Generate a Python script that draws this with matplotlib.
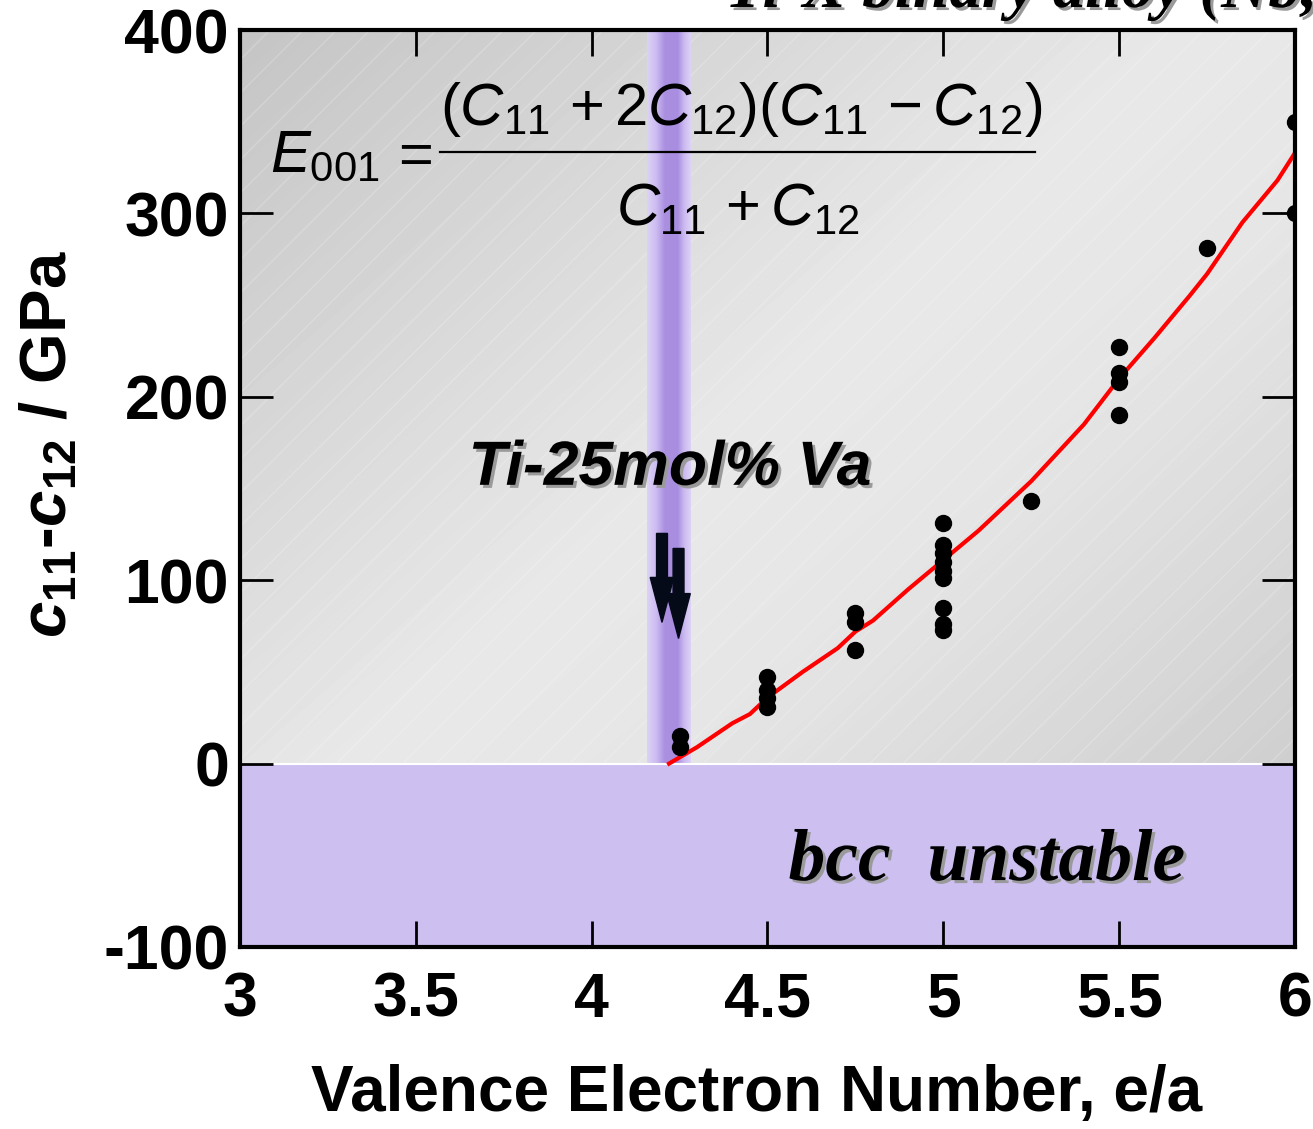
import numpy as np
import matplotlib
matplotlib.use('Agg')
import matplotlib.pyplot as plt
import matplotlib.patheffects as pe
from matplotlib.patches import Rectangle, FancyArrow
from matplotlib.colors import LinearSegmentedColormap

plt.rcParams['font.family'] = 'Liberation Sans'
plt.rcParams['axes.unicode_minus'] = False
plt.rcParams['mathtext.fontset'] = 'custom'
plt.rcParams['mathtext.rm'] = 'Liberation Sans'
plt.rcParams['mathtext.it'] = 'Liberation Sans:italic'
plt.rcParams['mathtext.bf'] = 'Liberation Sans:bold'
plt.rcParams['mathtext.bfit'] = 'Liberation Sans:bold:italic'

# measured points (e/a, c11-c12 in GPa)
ea_pts = [4.25, 4.25,
          4.5, 4.5, 4.5, 4.5,
          4.75, 4.75, 4.75,
          5, 5, 5, 5, 5, 5, 5, 5, 5,
          5.25,
          5.5, 5.5, 5.5, 5.5,
          5.75,
          6, 6]
c_pts = [15, 9,
         47, 40, 36, 31,
         82, 77, 62,
         131, 119, 115, 110, 105, 101, 85, 76, 73,
         143,
         227, 213, 208, 190,
         281,
         350, 300]

# calculated curve (red)
ea_calc = [4.22, 4.3, 4.4, 4.45, 4.5, 4.6, 4.7, 4.75, 4.8, 4.9, 5.0, 5.1, 5.2, 5.25,
           5.4, 5.5, 5.6, 5.7, 5.75, 5.85, 5.95, 6.0]
c_calc = [0, 9, 22, 27, 36, 50, 63, 72, 78, 95, 111, 127, 145, 154,
          185, 210, 232, 255, 267, 295, 318, 333]

# Ti-25mol% Va band and arrows
band_x0, band_x1 = 4.157, 4.282
arrow_x = [4.200, 4.247]
arrow_top = [125.5, 117.3]
arrow_tip = [77, 68.2]

xticks = [3, 3.5, 4, 4.5, 5, 5.5, 6]
xticklabels = ['3', '3.5', '4', '4.5', '5', '5.5', '6']
yticks = [-100, 0, 100, 200, 300, 400]

fig = plt.figure(figsize=(13.13, 11.29), dpi=100)
ax = fig.add_axes([240/1313, 182/1129, 1055/1313, 917/1129])
ax.set_xlim(3, 6)
ax.set_ylim(-100, 400)

# gray gradient background
X, Y = np.meshgrid(np.linspace(0, 1, 300), np.linspace(1, 0, 300))
u = (X + (1 - Y)) / 2
g = np.interp(u, [0, 0.45, 0.6, 0.9, 1.0], [0.77, 0.91, 0.90, 0.81, 0.80])
ax.imshow(g, cmap='gray', vmin=0, vmax=1, extent=[3, 6, -100, 400],
          aspect='auto', zorder=0, interpolation='bilinear')
ax.add_patch(Rectangle((0, 0), 1, 1, transform=ax.transAxes, fill=False,
                       hatch='/', edgecolor=(1, 1, 1, 0.2), lw=0, zorder=0.5))

# purple band
band_cmap = LinearSegmentedColormap.from_list(
    'band', [(0, '#ddd2f6'), (0.2, '#cdbdf1'), (0.4, '#ab90e1'),
             (0.7, '#a88de0'), (0.85, '#cbbaf0'), (1, '#ddd2f6')])
ax.imshow(np.linspace(0, 1, 100)[None, :], cmap=band_cmap, extent=[band_x0, band_x1, 0, 400],
          aspect='auto', zorder=1, interpolation='bilinear')

# bcc unstable region
ax.add_patch(Rectangle((3, -100), 3, 100, facecolor='#cdbff0', edgecolor='white', lw=1.5, zorder=1.5))

ax.plot(ea_calc, c_calc, color='#ff0000', lw=3, zorder=3)
ax.plot(ea_pts, c_pts, 'o', color='black', ms=11.5, zorder=4)

for x, y0, y1 in zip(arrow_x, arrow_top, arrow_tip):
    ax.add_patch(FancyArrow(x, y0, 0, y1 - y0, width=0.031, head_width=0.067,
                            head_length=24.5, length_includes_head=True,
                            color='#050a18', zorder=5))

shadow = [pe.SimplePatchShadow(offset=(2.2, -2.2), shadow_rgbFace='#9a9a9a', alpha=1), pe.Normal()]

ax.text(0.4076, 0.504, 'Ti-25mol% Va', fontsize=45, fontweight='bold', style='italic',
        ha='center', va='baseline', transform=ax.transAxes, zorder=6, path_effects=shadow)
ax.text(0.708, 0.073, 'bcc  unstable', fontsize=53, fontweight='bold', style='italic',
        family='Liberation Serif', ha='center', va='baseline', transform=ax.transAxes,
        zorder=6, path_effects=shadow)

# formula
ax.text(0.0284, 0.845, r'$E_{\mathit{001}}$', fontsize=43, ha='left', va='baseline',
        transform=ax.transAxes, zorder=6)
ax.text(0.162, 0.845, r'$=$', fontsize=43, ha='center', va='baseline',
        transform=ax.transAxes, zorder=6)
ax.text(0.4745, 0.896, r'$(C_{\mathit{11}}\,+2C_{\mathit{12}})(C_{\mathit{11}}\,-C_{\mathit{12}})$',
        fontsize=43, ha='center', va='baseline', transform=ax.transAxes, zorder=6)
ax.plot([0.1896, 0.7536], [0.867, 0.867], color='black', lw=1.6, transform=ax.transAxes, zorder=6)
ax.text(0.472, 0.787, r'$C_{\mathit{11}}\,+C_{\mathit{12}}$', fontsize=43, ha='center',
        va='baseline', transform=ax.transAxes, zorder=6)

# title (cut off at the top of the figure)
fig.text(725/1313, 1 - 7/1129, 'Ti-X binary alloy (Nb,', fontsize=47, fontweight='bold',
         style='italic', family='Liberation Serif', ha='left', va='baseline', path_effects=shadow)

ax.set_xticks(xticks)
ax.set_xticklabels(xticklabels)
ax.set_yticks(yticks)
ax.tick_params(axis='both', direction='in', width=2, labelsize=45, top=True, right=True)
ax.tick_params(axis='x', length=19, pad=17)
ax.tick_params(axis='y', length=24, pad=8)
for lab in ax.get_xticklabels() + ax.get_yticklabels():
    lab.set_fontweight('bold')
for s in ax.spines.values():
    s.set_linewidth(3)
    s.set_zorder(7)

ax.set_xlabel('Valence Electron Number, e/a', fontsize=46, fontweight='bold')
ax.xaxis.set_label_coords(0.49, -0.128)
ax.set_ylabel(r'$\mathbfit{c}_{\mathbf{11}}$-$\mathbfit{c}_{\mathbf{12}}$ / GPa', fontsize=47,
              fontweight='bold')
ax.yaxis.set_label_coords(-0.152, 0.548)

fig.savefig('out.png', dpi=100)
